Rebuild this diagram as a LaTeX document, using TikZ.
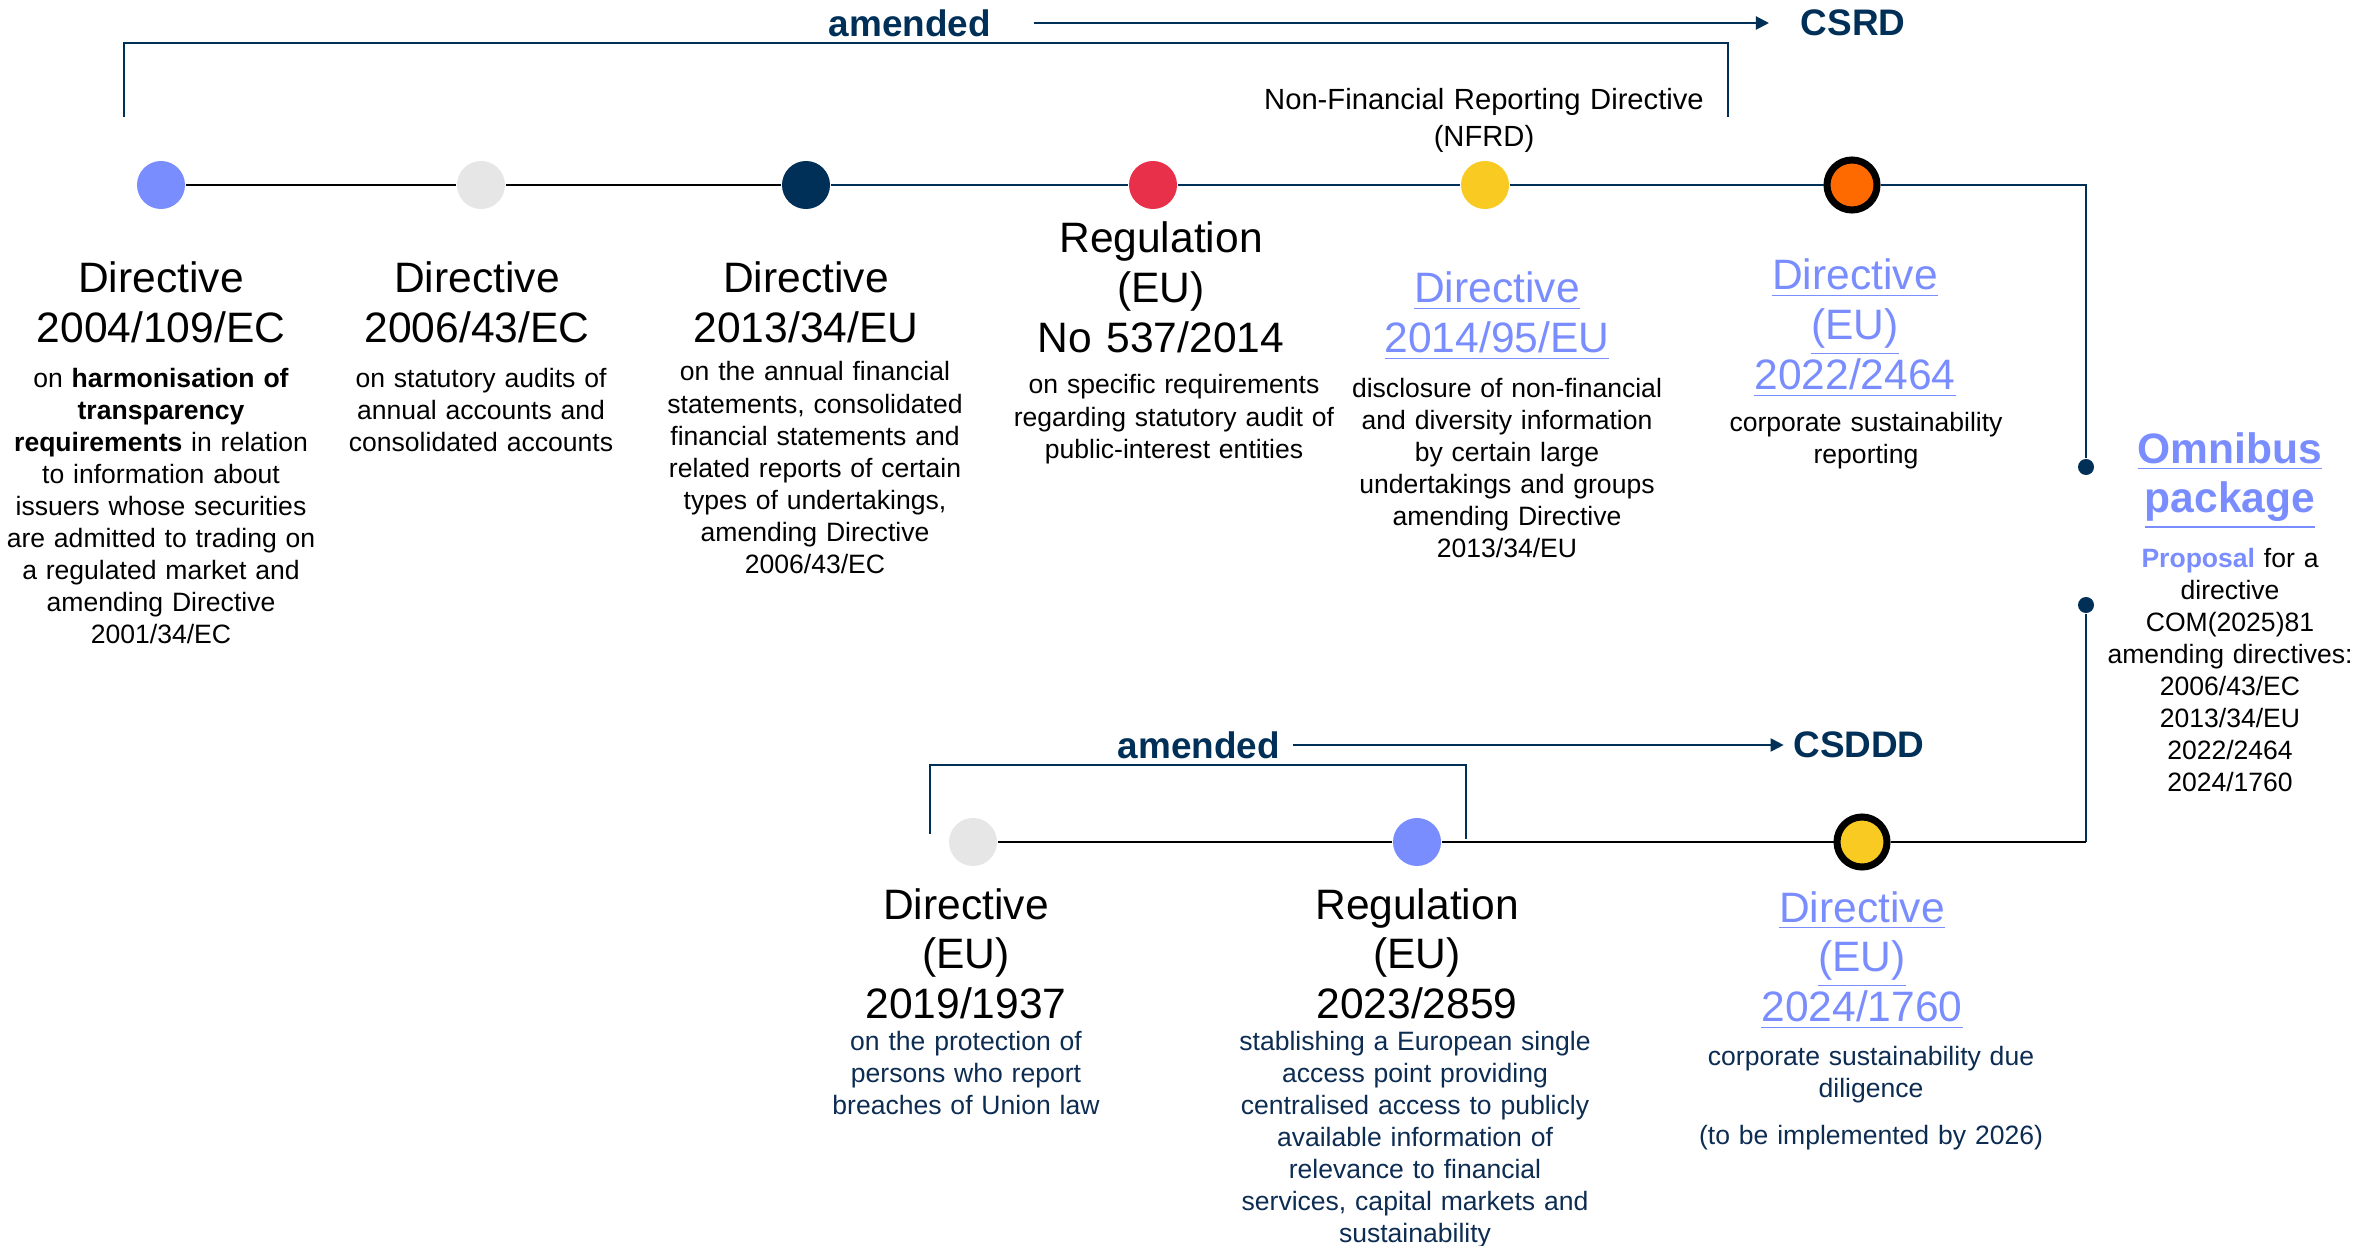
\documentclass[tikz,border=0pt]{standalone}
\usepackage{fontspec}
\setmainfont{Liberation Sans}
\usetikzlibrary{arrows.meta}

\definecolor{navy}{RGB}{0,48,87}
\definecolor{navytext}{RGB}{13,44,82}
\definecolor{peri}{RGB}{122,141,255}
\definecolor{lgray}{RGB}{230,230,230}
\definecolor{eured}{RGB}{232,48,74}
\definecolor{sunyellow}{RGB}{248,202,34}
\definecolor{deeporange}{RGB}{255,106,0}

\begin{document}
\begin{tikzpicture} [x=0.01cm, y=-0.01cm,
                    dot_style/.style={circle, inner sep=0pt, minimum size=0.48cm},
                    ring_style/.style={circle, draw=black, line width=0.07cm, inner sep=0pt, minimum size=0.5cm},
                    pin_style/.style={circle, fill=navy, inner sep=0pt, minimum size=0.16cm},
                    title_style/.style={anchor=base, text width=5cm, align=center, inner sep=0pt, font=\fontsize{12.1}{14.2}\selectfont},
                    link_style/.style={title_style, text=peri},
                    body_style/.style={anchor=base, text width=5cm, align=center, inner sep=0pt, font=\fontsize{7.55}{9.1}\selectfont},
                    tag_style/.style={inner sep=0pt, text=navy, font=\bfseries\fontsize{10.5}{12}\selectfont},
                    black_line/.style={draw=black, line width=0.02cm},
                    navy_line/.style={draw=navy, line width=0.02cm}]
                    \useasboundingbox (0,0) rectangle (2379,1246);
                    % top timeline
                    \node[dot_style, fill=peri] (d1) at (161,185) {};
                    \node[dot_style, fill=lgray] (d2) at (481,185) {};
                    \node[dot_style, fill=navy] (d3) at (806,185) {};
                    \node[dot_style, fill=eured] (d4) at (1153,185) {};
                    \node[dot_style, fill=sunyellow] (d5) at (1485,185) {};
                    \node[ring_style, fill=deeporange] (d6) at (1852,185) {};
                    \coordinate (tr) at (2086,185);
                    \node[pin_style] (p1) at (2086,467) {};
                    \node[pin_style] (p2) at (2086,605) {};
                    % bottom timeline
                    \node[dot_style, fill=lgray] (b1) at (973,842) {};
                    \node[dot_style, fill=peri] (b2) at (1417,842) {};
                    \node[ring_style, fill=sunyellow] (b3) at (1862,842) {};
                    \coordinate (br) at (2086,842);
                    \draw[black_line] (d1) -- (d2);
                    \draw[black_line] (d2) -- (d3);
                    \draw[navy_line] (d3) -- (d4);
                    \draw[navy_line] (d4) -- (d5);
                    \draw[navy_line] (d5) -- (d6);
                    \draw[navy_line] (d6) -- (tr) -- (p1);
                    \draw[navy_line] (p2) -- (br);
                    \draw[black_line] (br) -- (b3);
                    \draw[black_line] (b3) -- (b2);
                    \draw[black_line] (b2) -- (b1);
                    % amended brackets
                    \coordinate (k1) at (124,117);
                    \coordinate (k2) at (1728,117);
                    \draw[navy_line] (k1) -- ++(0,-74) -| (k2);
                    \node[tag_style] (amend_top) at (910,23) {amended};
                    \node[tag_style] (csrd) at (1853,23) {CSRD};
                    \draw[navy_line, -{Triangle[length=0.13cm, width=0.13cm]}] ([xshift=0.42cm]amend_top.east) -- ([xshift=-0.31cm]csrd.west);
                    \coordinate (k3) at (930,834);
                    \coordinate (k4) at (1466,839);
                    \draw[navy_line] (k3) -- ++(0,-69) -| (k4);
                    \node[tag_style] (amend_bot) at (1199,745) {amended};
                    \node[tag_style] (csddd) at (1859,745) {CSDDD};
                    \draw[navy_line, -{Triangle[length=0.13cm, width=0.13cm]}] ([xshift=0.12cm]amend_bot.east) -- ([xshift=-0.09cm]csddd.west);
                    \node[body_style, font=\fontsize{8.3}{10.3}\selectfont] (nfrd) at (1484,110) {Non-Financial Reporting Directive\\(NFRD)};
                    % top labels
                    \node[title_style] (t1) at (161,293) {Directive\\2004/109/EC};
                    \node[body_style] (s1) at (161,387) {on \textbf{harmonisation of}\\\textbf{transparency}\\\textbf{requirements} in relation\\to information about\\issuers whose securities\\are admitted to trading on\\a regulated market and\\amending Directive\\2001/34/EC};
                    \node[title_style] (t2) at (477,293) {Directive\\2006/43/EC};
                    \node[body_style] (s2) at (481,387) {on statutory audits of\\annual accounts and\\consolidated accounts};
                    \node[title_style] (t3) at (806,293) {Directive\\2013/34/EU};
                    \node[body_style] (s3) at (815,381) {on the annual financial\\statements, consolidated\\financial statements and\\related reports of certain\\types of undertakings,\\amending Directive\\2006/43/EC};
                    \node[title_style] (t4) at (1161,253) {Regulation\\(EU)\\No 537/2014};
                    \node[body_style] (s4) at (1174,394) {on specific requirements\\regarding statutory audit of\\public-interest entities};
                    \node[link_style] (t5) at (1497,303) {\underline{Directive}\\\underline{2014/95/EU}};
                    \node[body_style] (s5) at (1507,397) {disclosure of non-financial\\and diversity information\\by certain large\\undertakings and groups\\amending Directive\\2013/34/EU};
                    \node[link_style] (t6) at (1855,290) {\underline{Directive}\\\underline{(EU)}\\\underline{2022/2464}};
                    \node[body_style] (s6) at (1866,432) {corporate sustainability\\reporting};
                    % omnibus
                    \node[link_style, font=\bfseries\fontsize{12.1}{14.2}\selectfont] (omni) at (2230,463) {\underline{Omnibus}\\\underline{package}};
                    \node[body_style] (prop) at (2230,567) {\textcolor{peri}{\textbf{Proposal}} for a\\directive\\COM(2025)81\\amending directives:\\2006/43/EC\\2013/34/EU\\2022/2464\\2024/1760};
                    % bottom labels
                    \node[title_style] (u1) at (966,919) {Directive\\(EU)\\2019/1937};
                    \node[body_style, text=navytext] (v1) at (966,1050) {on the protection of\\persons who report\\breaches of Union law};
                    \node[title_style] (u2) at (1417,919) {Regulation\\(EU)\\2023/2859};
                    \node[body_style, text=navytext] (v2) at (1415,1050) {stablishing a European single\\access point providing\\centralised access to publicly\\available information of\\relevance to financial\\services, capital markets and\\sustainability};
                    \node[link_style] (u3) at (1862,922) {\underline{Directive}\\\underline{(EU)}\\\underline{2024/1760}};
                    \node[body_style, text=navytext] (v3) at (1871,1065) {corporate sustainability due\\diligence};
                    \node[body_style, text=navytext] (w3) at (1871,1144) {(to be implemented by 2026)};
                \end{tikzpicture}
\end{document}
